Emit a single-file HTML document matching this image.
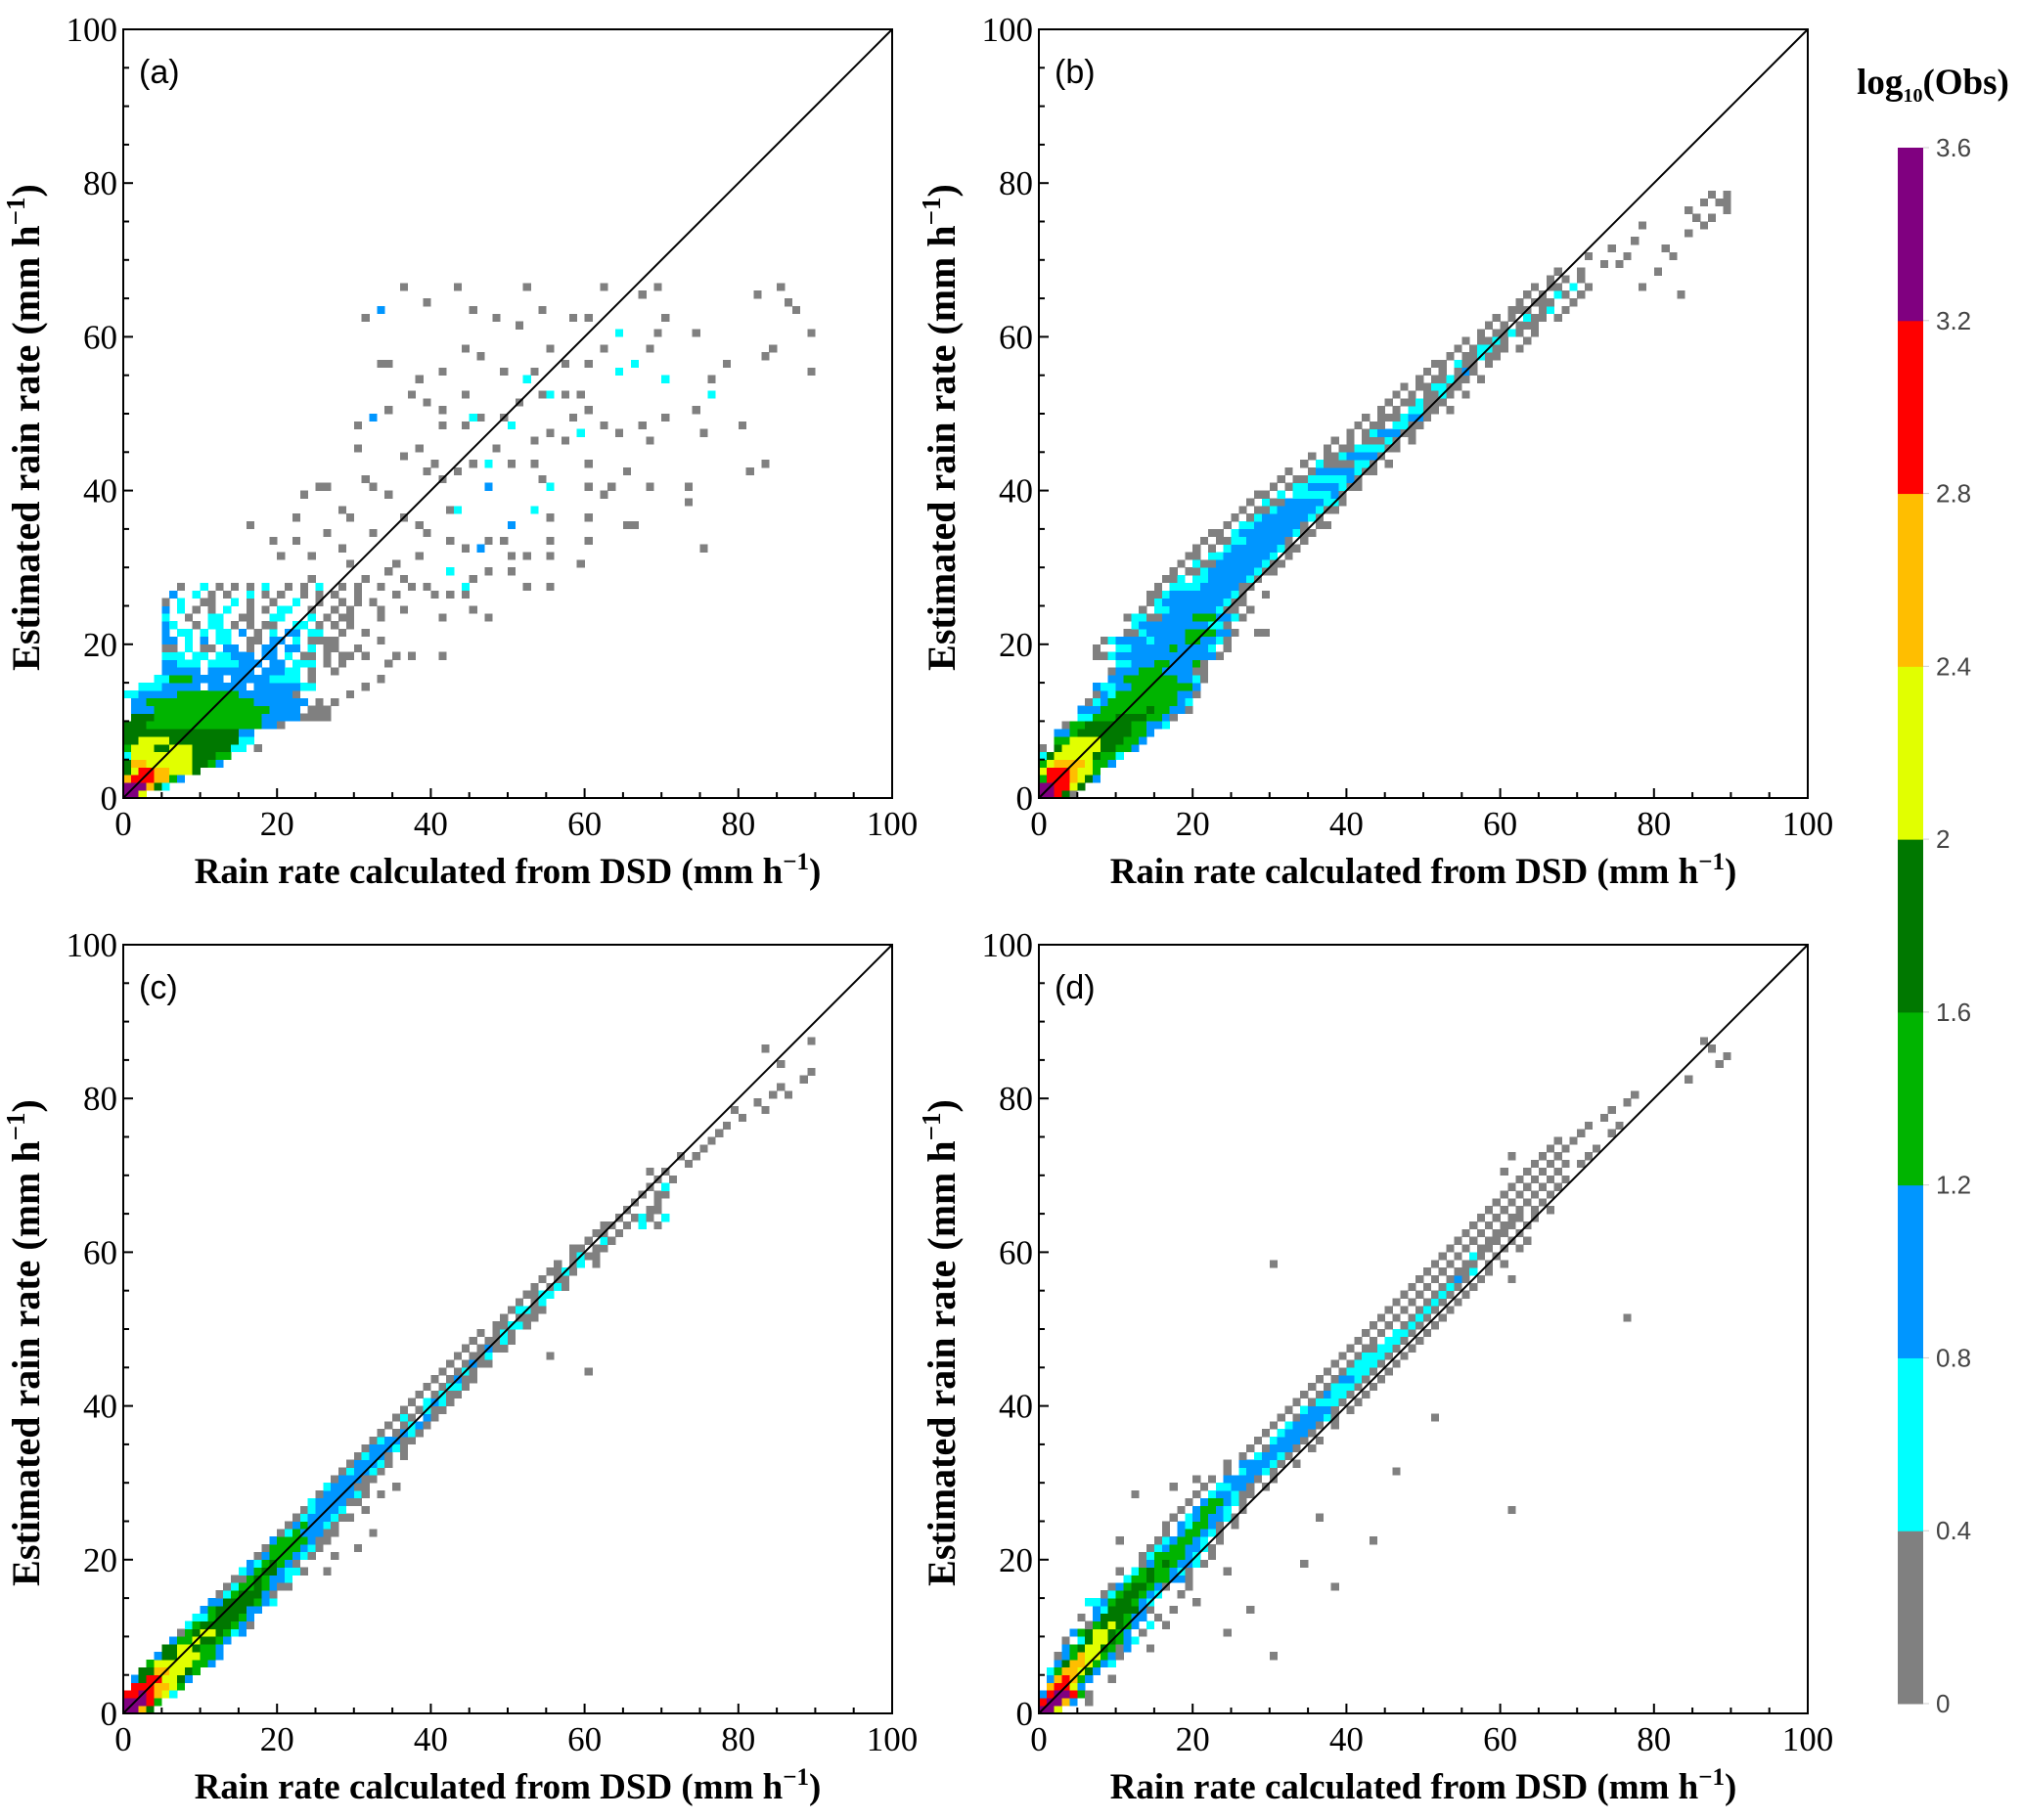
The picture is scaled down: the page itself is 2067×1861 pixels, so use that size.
<!DOCTYPE html>
<html><head><meta charset="utf-8"><style>
html,body{margin:0;padding:0;background:#fff;}
svg{display:block;}
.tk{font-family:"Liberation Serif",serif;font-size:35px;fill:#000;}
.ttl{font-family:"Liberation Serif",serif;font-size:37px;font-weight:bold;fill:#000;}
.ttly{font-family:"Liberation Serif",serif;font-size:40px;font-weight:bold;fill:#000;}
.pl{font-family:"Liberation Sans",sans-serif;font-size:34px;fill:#000;}
.cb{font-family:"Liberation Sans",sans-serif;font-size:26px;fill:#444;}
</style></head><body>
<svg id="chart" width="2067" height="1861" viewBox="0 0 2067 1861" xmlns="http://www.w3.org/2000/svg"></svg>
<script>
const levelColors = {a:"#808080",c:"#00ffff",b:"#0096ff",g:"#00b400",d:"#007800",y:"#e1ff00",o:"#ffbe00",r:"#ff0000",p:"#800080"};
const colorbarColors = ["#808080","#00ffff","#0096ff","#00b400","#007800","#e1ff00","#ffbe00","#ff0000","#800080"];
const colorbarTicks = ["0","0.4","0.8","1.2","1.6","2","2.4","2.8","3.2","3.6"];
const axisTicks = [0,20,40,60,80,100];
const panelLabels = ["(a)","(b)","(c)","(d)"];

const rowsA = [
"0|0-1p 2y","1|0-2p 3o 4d 5c","2|0o 1-3r 4-5o 6g 7b","3|0d 1y 2-3r 4-5o 6-8y 9d",
"4|0d 1-2o 3-8y 9-10d 11g 12b","5|0c 1-8y 9-11d 12-13g","6|0g 1-3y 4-5d 6-8y 9-13d 14-15c 17a",
"7|0-1d 2-5y 6-14d 15-16c","8|0-14d 15-16b","9|0-2d 3-17g 18-19b 20a",
"10|1-3d 4-17g 18-22b 23-26a","11|1-3b 4-18g 19-22b 24-26a","12|1-2b 3-16g 17-23b 25a",
"13|0-1c 2-6b 7-14g 15-21b 22a","14|2-4c 5-9b 11-15b 17-22b 23-24c","15|4-5c 6-8g 9-12b 14-18b 19-22c 24a",
"16|5-9b 11-16b 18-20b 21-22c 24a 27a","17|5-6b 7-9c 11-14c 15-17b 19-20b 22-24c 26a 28a","18|5-7c 9-10c 12-13c 14-16b 18-19b 21c 23-24a 26a 31a",
"19|5-6a 8c 10-11a 13-14b 16a 18-19b 21-22b 24c 26-27a 30a","20|5-6b 8c 10b 12-13c 16-17a 19-20b 22c 24a 26a",
"21|5b 7-8c 10c 12-13c 15b 17a 19c 21-22b 24-25c 28a","22|5b 6c 9a 11-12c 14a 16a 18-19a 22-23c 25a 27a 29a",
"23|5c 8a 11-12c 15-16a 19-20c 24c 26a 28-29a 33a","24|5b 7c 9a 11a 13c 16a 18a 20-21c 24a 27a 29a 33a",
"25|5a 7c 10-11a 14c 16a 19a 22c 25a 28a 30a 32a","26|6b 9c 11a 13a 16c 18a 20a 23a 25a 27a 30a 35a",
"27|7a 10c 12a 14a 16a 18c 21a 23a 25c 28a 30a 33a"
];
const extraA = [
"36,66,a","43,66,a","52,66,a","62,66,a","67,65,a","69,66,a","85,66,a","82,65,a","86,64,a","87,63,a","89,60,a","89,55,a",
"31,62,a","39,64,a","45,63,a","48,62,a","54,63,a","58,62,a","60,62,a","70,62,a","51,61,a","74,60,a","69,60,a","68,58,a",
"78,56,a","84,58,a","83,57,a","76,54,a","74,50,a","70,49,a","75,47,a","80,48,a","81,42,a","83,43,a","73,40,a","73,38,a",
"75,32,a","68,40,a","65,42,a","67,48,a","64,47,a","68,46,a","62,48,a","60,50,a","60,56,a","62,58,a","57,56,a","55,58,a",
"53,55,a","49,55,a","46,57,a","44,58,a","41,55,a","38,54,a","34,56,a","33,56,a","34,50,a","37,52,a","39,51,a","41,50,a",
"44,52,a","41,48,a","44,48,a","46,49,a","49,49,a","51,51,a","54,52,a","57,52,a","59,52,a","55,47,a","53,46,a","57,46,a",
"58,49,a","30,45,a","30,48,a","36,44,a","38,45,a","40,43,a","39,42,a","41,41,a","43,42,a","45,43,a","48,45,a","50,43,a",
"53,43,a","60,43,a","63,40,a","60,40,a","62,39,a","54,41,a","55,36,a","60,36,a","65,35,a","66,35,a","60,33,a","55,33,a",
"55,31,a","52,31,a","50,31,a","50,29,a","52,27,a","55,27,a","59,30,a","47,29,a","45,28,a","47,23,a","45,24,a","41,23,a",
"41,18,a","37,18,a","35,18,a","34,17,a","33,15,a","31,14,a","29,13,a","27,12,a",
"25,40,a","26,40,a","23,39,a","22,36,a","28,37,a","29,36,a","31,41,a","32,40,a","34,39,a","36,36,a","38,35,a","39,34,a",
"42,37,a","42,33,a","44,32,a","47,33,a","49,33,a","16,35,a","19,33,a","20,31,a","22,33,a","24,31,a","28,32,a","29,30,a",
"34,29,a","36,28,a","37,27,a","39,27,a","40,26,a","42,26,a","44,26,a","36,24,a","33,24,a","29,24,a","25,20,a","27,20,a",
"31,21,a","33,20,a","28,18,a","29,18,a","35,30,a","38,31,a","32,34,a","26,34,a","24,28,a","31,28,a",
"52,54,c","55,52,c","64,60,c","64,55,c","66,56,c","70,54,c","76,52,c","59,47,c","45,49,c","50,48,c","47,43,c","55,40,c",
"53,37,c","43,37,c","44,27,c","42,29,c","33,63,b","32,49,b","47,40,b","46,32,b","50,35,b"
];
const rowsB = [
"0|0-1p 2r 3d 4a","1|0-1p 2-3r 4y 5d","2|0g 1-3r 4o 5y 6d 7b","3|0y 1-3r 4o 5-6y 7g","4|0g 1y 2-5o 6y 7-8g 9b",
"5|0c 1d 2-6y 7d 8-9g 10c","6|0a 2d 3-7y 8-9d 10-11g 12b","7|2-3g 4-7y 8-10d 11-12g 13b","8|2-3b 4g 5-11d 12-13g 14b",
"9|3a 4-5g 6-11d 12-13g 14-15b 16c","10|5-6c 7-9g 10-13d 14-15g 16b 17a","11|5-7b 8-13g 14d 15-16g 17-18b 19a",
"12|6a 7c 8b 9-17g 18b 19c","13|7a 8b 9c 10-17g 18-19b 20a","14|7b 8-9c 10-11b 12-19g 20b","15|9-10b 11-17g 18-19b 20c 21a",
"16|9a 10-12b 13-15g 16-19b 20-21a","17|10-11c 12-14b 15-16g 17-19b 20g 21a","18|7-8a 9c 10-22b 23a",
"19|7a 10-11c 12-16b 17g 18-21b 22c 24a","20|8a 9c 10-13b 14c 15-18b 19-20g 21-22b 23c 24a",
"21|11-12a 13c 14-18b 19-22g 23-24b 25a 28-29a","22|12c 13-21b 22-23c 24a","23|11a 12-13c 14-15a 16-19b 20-22g 23-24b 25c 26a",
"24|13a 15-16c 17-22b 23c 24-25a 27a","25|14a 15c 16-23b 24c 25-26a","26|14-15a 16c 17-24b 25c 26a 29a",
"27|15a 17c 18-20c 21-25b 26-27a","28|16-17a 18c 20-21c 22-26b 27c 28a","29|17a 19-20a 21c 22-27b 28c 29-30a",
"30|18a 20c 21-22a 23-28b 29c 30-31a","31|19-20a 22-23c 24-29b 30c 32a","32|20a 22a 24c 25-30b 31c 32-33a",
"33|21a 23-24a 25-26c 27-31b 32a 34a","34|22-23a 25c 26-32b 33c 34-35a","35|24a 26-27c 28-33b 34a 36-37a",
"36|25a 27a 28c 29-34b 35c 36a","37|26a 28-29a 30c 31-35b 36c 37-38a","38|27a 29c 30-31a 32-36b 37-38c 39a",
"39|28-29a 31c 33-37c 38b 39a","40|30a 32a 33-34c 35-38b 39c 40-41a","41|31a 33-34a 35-39c 40b 41a",
"42|32a 35a 36-40b 41c 42-43a","43|34a 36c 37-40a 41-42c 43a 45a","44|35a 37-38a 39c 40-43b 44a",
"45|37a 39-40a 41c 42-44c 45-46a","46|38a 40a 42-44a 45c 46a 48a","47|40a 42a 43c 44-46b 47-48a",
"48|41a 43-44a 46-47c 48a 49a","49|42a 44a 45-46a 47c 48-49b 50a","50|44a 46a 48-49c 50-51a 53a",
"51|45a 47-48a 49c 50-51a 52a","52|46a 48a 50-51a 52c 53a 55a","53|47a 49-50a 51-52c 53-54a",
"54|49a 51-52a 53c 54-55a 57a","55|50a 52a 54a 55b 56a","56|51-52a 54c 55-56a 58a","57|53a 55-56a 57c 58-59a",
"58|54a 56a 57-58c 59-60a 62a","59|55a 57a 58a 59c 60a 63a","60|57a 59-60a 61c 62a 64a","61|58a 60a 62-63a 64a",
"62|59a 61a 63c 64-65a 67a","63|61a 62-63a 65a 66c 68a","64|62a 64-65a 66a 69a","65|63a 65a 67c 68a 70a 83a",
"66|64a 66-67a 69c 71a 78a","67|66a 68a 70a","68|67a 70a 80a","69|73a 75a","70|71a 76a 82a","71|74a 81a","72|77a",
"73|84a","74|78a 86a","75|85a 87a","76|84a 89a","77|86a 88a 89a","78|87a 89a"
];
const rowsC = [
"0|0-1p 2o 3d","1|0-2p 3r 4g","2|0-1r 2p 3r 4o 5y 6c","3|1-3r 4-5o 6y 7g","4|1b 2d 3-4r 5-6y 7d 8b",
"5|2-3d 4-5o 6-7y 8d 9g","6|3g 4-8y 9-10g 11b","7|4b 5-6d 7-9y 10-11g 12b","8|5-6d 7-8y 9d 10-11g 12b",
"9|6b 7-8g 9y 10-11d 12g 13b","10|7a 8g 9d 10-11y 12d 13g 14c 15b","11|8c 9g 10-13d 14g 15b 16a",
"12|9-10c 11g 12-14d 15g 16b","13|10b 11g 12-15d 16-17b","14|11-12b 13-16d 17g 18b 19c","15|12a 13c 14g 15-17d 18b 19a",
"16|13a 14c 15-16g 17d 18g 19b 20-21a","17|14-15a 16g 17d 18g 19-20b 21c","18|15c 16b 17g 18-19d 20b 21-22c 23a 26a",
"19|16b 17c 18g 19d 20g 21b 22a","20|17a 18b 19-21g 22b 23c 24a 27a","21|18a 19-22g 23b 24c 25a 30a",
"22|19b 20-23g 24b 25-26a","23|20a 21c 22g 23-25b 26-27a 32a","24|21a 22b 23g 24-25b 26c 27a",
"25|22a 23c 24-26b 27c 28-29a","26|23a 24c 25-27b 28c 31a","27|24c 25-28b 29-30a","28|25a 26-29b 30c 31a 33a",
"29|26c 27-29b 30-31a 35a","30|27a 28-30b 31-32a","31|28a 29c 30-31b 32c 33a","32|29a 30-32b 33c 34a",
"33|30a 31c 32-33b 34a 36a","34|31a 32-34b 35c 36a","35|32a 33c 34-35b 36-37a","36|33a 35a 36b 37c 38a",
"37|34a 36a 37c 38b 39a","38|35a 36c 37a 39b 40a","39|36a 38a 39c 40a 41a","40|37a 39c 40b 41c 42a","41|38a 40a 41c 42a 43a","42|39a 41a 42c 43c 44a",
"43|40a 42a 43b 44a 45a","44|41a 43a 44c 45a 60a","45|42a 44a 45b 46a 47a","46|43a 45a 46a 47c 55a","47|44a 46a 47b 48a 49a","48|45a 47a 48a 49c 50a","49|46a 48a 49c 50a",
"50|48a 49a 50c 51c 52a","51|49a 51a 52a 53a","52|50a 51-52c 53-54a","53|51a 53a 54c","54|52a 53a 54c 55c","55|53a 55a 56c 57a","56|54a 56a 57a",
"57|55a 56a 57c 58a","58|56a 58a 59c 61a","59|58a 59c 60-61a","60|58a 59a 61a 62a","61|60a 62c 63a","62|61a 62a 64a",
"63|62a 63a 65a 67c 69a","64|64a 66a 67c 68a 70c","65|65a 68a 69a","66|66a 69a","67|67a 69-70a","68|68a 70c",
"69|69a 71a","70|68a 70a","71|73a","72|72a 74a","73|75a","74|76a","75|77a","76|78a","77|80a","78|79a 83a",
"79|82a","80|84a 86a","81|85a","82|88a","83|89a","84|85a","86|83a","87|89a"
];
const rowsD = [
"0|0-1p 2y","1|0r 1-2p 3o 4b 6a","2|0b 1r 2-3p 4r 5g 6a","3|1o 2-3r 4y 5b","4|1b 2o 3r 4o 5g 6b 9a",
"5|1c 2g 3-4o 5y 6d 7b","6|2b 3d 4-5o 6y 7g 8b 9c","7|2a 3b 4g 5o 6-7y 8g 9b 10a",
"8|3b 4g 5d 6-7y 8d 9g 10a 11b 14a","9|3a 5c 6d 7-8y 9d 10g 11b 12c","10|4b 5g 6d 7-8y 9d 10g 11b 13a",
"11|6a 7g 8d 9y 10d 11g 12b 14c 16a","12|5a 7b 8-10d 11g 12-13b 15a","13|7b 8c 9-12d 13b 14a 17a",
"14|6-7c 8b 9g 10-11d 12g 13b 14c 20a","15|8a 9c 10g 11-12d 13g 14b 15c 18a","16|9a 10b 11g 12-13d 14g 15b 16a 19a",
"17|11c 12-13g 14d 15-16g 17-18b 19a","18|10a 12c 13g 14d 15-16g 17b 18c 19a 24a","19|13a 14b 15g 16d 17g 18-19b 20c 21a",
"20|13a 14c 15-18g 19b 20c 22a","21|14a 15c 16b 17-18g 19-20b 21c 22a","22|15a 16c 17b 18-19g 20b 21c 23a",
"23|16a 18b 19-20g 21b 22c 23a","24|16a 18b 19c 20-21g 22b 23a 25a","25|17a 19c 20b 21g 22-23b 24c 25a",
"26|18a 20b 21-22g 23b 24c 26a","27|19a 21b 22-23g 24b 25c 26a","28|20a 22c 23-24b 25c 26-27a",
"29|21a 23-24c 25-26b 27a 29a","30|22a 24b 25-27b 28a 30a","31|24a 26c 27-28b 29c 30a",
"32|24a 26b 27-29b 30c 31a 33a","33|26a 28c 29-30b 31c 32a","34|27a 29a 30-32b 33a 35a",
"35|28a 30c 31-33b 34a 36a","36|29a 31c 32-34b 35a","37|30a 32c 33-35b 36a 38a","38|31a 33a 34-36b 37c 38a",
"39|32a 34c 35-37b 38a 40a","40|33a 35a 36-38c 39a 41a","41|34a 36a 37b 38-39c 40a 42a","42|35a 37a 38-40c 41a 43a",
"43|36a 38a 39-40b 41c 42a 44a","44|37a 39a 40-42c 43a 45a","45|38a 40a 41-43c 44a 46a","46|39a 41a 42-44c 45a 47a",
"47|40a 42a 43a 44-45c 46a 48a","48|41a 43a 45-46c 47a 49a","49|42a 44a 46-47c 48a 50a","50|43a 45a 47a 48c 49a 51a",
"51|44a 46a 48a 49c 50a 52a 76a","52|45a 47a 49a 50c 51a 53a","53|46a 48a 50a 51c 52a 54a","54|47a 49a 51a 52c 53a 55a",
"55|48a 50a 52a 53c 54a 56a","56|49a 51a 53a 54b 55a 57a 61a","57|50a 52a 54a 55a 56c 58a","58|30a 51a 53a 55a 56a 58a 60a",
"59|52a 54a 56c 57a 59a","60|53a 55a 57a 58a 60a 62a","61|54a 56a 58a 59a 61a 63a","62|55a 57a 59a 60a 62a",
"63|56a 58a 60a 61a 63a","64|57a 59a 61a 62a 64a","65|58a 60a 62a 64a 66a","66|59a 61a 63a 65a","67|60a 62a 64a 66a",
"68|61a 63a 65a 67a","69|62a 64a 66a 68a","70|60a 63a 65a 67a","71|64a 66a 68a 70a","72|61a 65a 67a 71a",
"73|66a 68a 72a","74|67a 69a","75|70a 74a","76|71a 75a","77|73a","78|74a","79|76a","80|77a",
"82|84a","84|88a","85|89a","86|87a","87|86a"
];
const extraD = ["61,26,a","38,16,a","17,29,a","12,28,a","10,22,a","30,7,a","27,13,a","24,10,a","34,19,a","36,25,a","20,30,a","46,31,a","51,38,a","43,22,a"];

const panels = [
  {left:126, top:30, rows:rowsA, extra:extraA},
  {left:1062, top:30, rows:rowsB, extra:[]},
  {left:126, top:966, rows:rowsC, extra:[]},
  {left:1062, top:966, rows:rowsD, extra:extraD}
];
const SIZE = 786;
const NS = "http://www.w3.org/2000/svg";
const svg = document.getElementById('chart');
function mk(tag, attrs, parent){const e=document.createElementNS(NS,tag);for(const k in attrs)e.setAttribute(k,attrs[k]);(parent||svg).appendChild(e);return e;}

panels.forEach((P,pi)=>{
  const xs = v => P.left + v/100*SIZE;
  const ys = v => P.top + SIZE - v/100*SIZE;
  const g = mk('g',{});
  
  
  const cells = mk('g',{'shape-rendering':'crispEdges'},g);
  
  
  const drawCell=(x,y,L)=>{
    const r=mk('rect',{x:xs(x),y:ys(y+1),width:xs(x+1)-xs(x)+0.3,height:ys(y)-ys(y+1)+0.3,fill:levelColors[L]},cells);
    
    
  };
  P.rows.forEach(row=>{
    const [yy,segs]=row.split('|');const y=+yy;
    segs.trim().split(/\s+/).forEach(s=>{
      const L=s.slice(-1);const rng=s.slice(0,-1).split('-').map(Number);
      const x0=rng[0],x1=rng.length>1?rng[1]:rng[0];
      for(let x=x0;x<=x1;x++)drawCell(x,y,L);
    });
  });
  P.extra.forEach(e=>{const p=e.split(',');drawCell(+p[0],+p[1],p[2]);});
  const dl=mk('line',{x1:xs(0),y1:ys(0),x2:xs(100),y2:ys(100),stroke:'#000','stroke-width':2},g);
  
  
  const fr=mk('rect',{x:xs(0),y:ys(100),width:SIZE,height:SIZE,fill:'none',stroke:'#000','stroke-width':2},g);
  
  
  for(let v=0;v<=100;v+=5){
    const len = v%20===0?10:6;
    mk('line',{x1:xs(v),y1:ys(0),x2:xs(v),y2:ys(0)-len,stroke:'#000','stroke-width':2},g);
    mk('line',{x1:xs(0),y1:ys(v),x2:xs(0)+len,y2:ys(v),stroke:'#000','stroke-width':2},g);
  }
  axisTicks.forEach(v=>{
    const tx=mk('text',{x:xs(v),y:ys(0)+38,'text-anchor':'middle',class:'tk'},g);tx.textContent=v;
    
    
    const ty=mk('text',{x:xs(0)-6,y:ys(v)+12,'text-anchor':'end',class:'tk'},g);ty.textContent=v;
    
    
  });
  const xt=mk('text',{x:xs(50),y:ys(0)+87,'text-anchor':'middle',class:'ttl'},g);
  xt.innerHTML='Rain rate calculated from DSD (mm h<tspan dy="-14" font-size="25">\u22121</tspan><tspan dy="14">)</tspan>';
  
  
  const cy=ys(50), cx=P.left-86;
  const yt=mk('text',{x:cx,y:cy+14,'text-anchor':'middle',class:'ttly',transform:`rotate(-90 ${cx} ${cy+14})`},g);
  yt.setAttribute('x',cx);
  yt.innerHTML='Estimated rain rate (mm h<tspan dy="-15" font-size="27">\u22121</tspan><tspan dy="15">)</tspan>';
  
  
  const lb=mk('text',{x:P.left+16,y:P.top+55,class:'pl'},g);lb.textContent=panelLabels[pi];
  
  
});

const cb=mk('g',{});


const cbTop=151, cbBot=1742, cbX=1940, cbW=26;
const segH=(cbBot-cbTop)/colorbarColors.length;
colorbarColors.forEach((c,i)=>{
  const r=mk('rect',{x:cbX,y:cbBot-(i+1)*segH,width:cbW,height:segH+0.5,fill:c},cb);
  
  
});
colorbarTicks.forEach((t,i)=>{
  const y=cbBot-i*segH;
  mk('line',{x1:cbX+cbW,y1:y,x2:cbX+cbW+6,y2:y,stroke:'#ccc','stroke-width':1},cb);
  const tx=mk('text',{x:cbX+cbW+13,y:y+9,class:'cb'},cb);tx.textContent=t;
  
  
});
const ct=mk('text',{x:1976,y:96,'text-anchor':'middle',class:'ttl','font-size':'30'},cb);
ct.innerHTML='log<tspan dy="8" font-size="20">10</tspan><tspan dy="-8">(Obs)</tspan>';


</script>
</body></html>
